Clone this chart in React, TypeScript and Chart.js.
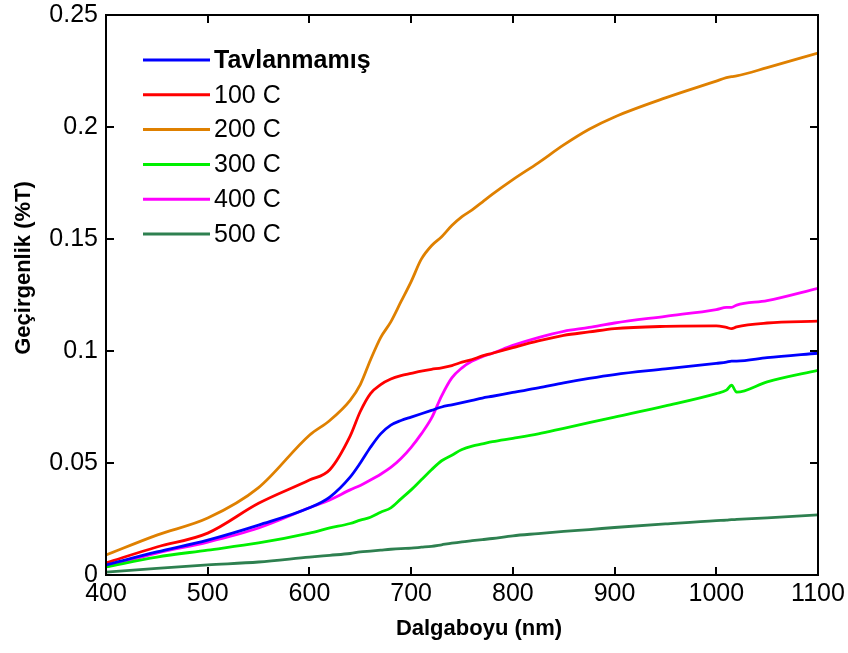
import React, { useEffect, useRef } from "react";
import { Chart, registerables } from "chart.js";

Chart.register(...registerables);

const WAVELENGTHS = [400, 450, 500, 550, 600, 620, 640, 650, 660, 670, 680, 690, 700, 710, 720, 730, 740, 750, 760, 770, 780, 800, 825, 850, 875, 900, 950, 1000, 1010, 1015, 1020, 1050, 1100];

const TAVLANMAMIS = [0.0045, 0.0103, 0.0156, 0.0223, 0.030, 0.0348, 0.0437, 0.050, 0.057, 0.063, 0.0669, 0.069, 0.0705, 0.072, 0.0735, 0.075, 0.076, 0.077, 0.078, 0.079, 0.0798, 0.0815, 0.0835, 0.0858, 0.0878, 0.0895, 0.092, 0.0945, 0.095, 0.0955, 0.0955, 0.097, 0.099];
const C100 = [0.0054, 0.0125, 0.0187, 0.032, 0.0424, 0.047, 0.062, 0.073, 0.081, 0.085, 0.0875, 0.089, 0.090, 0.091, 0.0918, 0.0925, 0.0935, 0.095, 0.0962, 0.0978, 0.099, 0.1015, 0.1045, 0.107, 0.1085, 0.110, 0.111, 0.1112, 0.1105, 0.110, 0.1108, 0.1125, 0.1133];
const C200 = [0.0089, 0.0178, 0.0254, 0.039, 0.0624, 0.069, 0.078, 0.085, 0.096, 0.106, 0.113, 0.122, 0.131, 0.141, 0.147, 0.151, 0.156, 0.160, 0.163, 0.1665, 0.170, 0.1765, 0.184, 0.192, 0.199, 0.2045, 0.213, 0.2205, 0.222, 0.2225, 0.2228, 0.2265, 0.233];
const C300 = [0.0036, 0.008, 0.0111, 0.0143, 0.0187, 0.021, 0.023, 0.0245, 0.0258, 0.028, 0.030, 0.034, 0.038, 0.0425, 0.047, 0.051, 0.0535, 0.056, 0.0575, 0.0585, 0.0595, 0.061, 0.063, 0.0655, 0.068, 0.0705, 0.0755, 0.081, 0.0825, 0.0847, 0.0816, 0.0862, 0.0914];
const C400 = [0.0036, 0.0098, 0.0147, 0.021, 0.030, 0.0335, 0.038, 0.040, 0.0424, 0.045, 0.048, 0.052, 0.057, 0.063, 0.070, 0.080, 0.088, 0.0925, 0.0955, 0.0975, 0.099, 0.1025, 0.106, 0.1088, 0.1105, 0.1125, 0.1155, 0.1185, 0.1195, 0.1195, 0.1205, 0.1225, 0.128];
const C500 = [0.0013, 0.003, 0.0045, 0.0058, 0.008, 0.0088, 0.0096, 0.0103, 0.0107, 0.0111, 0.0115, 0.0118, 0.012, 0.0124, 0.0128, 0.0135, 0.0142, 0.0148, 0.0153, 0.0158, 0.0163, 0.0175, 0.0185, 0.0195, 0.0203, 0.0212, 0.0228, 0.0243, 0.0245, 0.0247, 0.0248, 0.0255, 0.0268];

const SERIES_NAMES = ["Tavlanmamış", "100 C", "200 C", "300 C", "400 C", "500 C"];
const SERIES_VALUES = [TAVLANMAMIS, C100, C200, C300, C400, C500];
const SERIES_COLORS = ["#0000FF", "#FF0000", "#DF8000", "#00F000", "#FF00FF", "#2E8050"];

const X_TICKS = [400, 500, 600, 700, 800, 900, 1000, 1100];
const X_TICK_LABELS = ["400", "500", "600", "700", "800", "900", "1000", "1100"];
const Y_TICKS = [0, 0.05, 0.1, 0.15, 0.2, 0.25];
const Y_TICK_LABELS = ["0", "0.05", "0.1", "0.15", "0.2", "0.25"];

const X_TITLE = "Dalgaboyu (nm)";
const Y_TITLE = "Geçirgenlik (%T)";

const FONT = "'Liberation Sans', Arial, sans-serif";

const framePlugin = {
  id: "framePlugin",
  afterDraw(chart: any) {
    const { ctx, chartArea } = chart;
    const xs = chart.scales.x;
    const ys = chart.scales.y;
    const { left, right, top, bottom } = chartArea;
    ctx.save();
    ctx.strokeStyle = "#000";
    ctx.lineWidth = 2;
    ctx.strokeRect(left, top, right - left, bottom - top);
    const tl = 8;
    ctx.beginPath();
    X_TICKS.forEach((v) => {
      const px = Math.round(xs.getPixelForValue(v));
      ctx.moveTo(px, bottom);
      ctx.lineTo(px, bottom - tl);
      ctx.moveTo(px, top);
      ctx.lineTo(px, top + tl);
    });
    Y_TICKS.forEach((v) => {
      const py = Math.round(ys.getPixelForValue(v));
      ctx.moveTo(left, py);
      ctx.lineTo(left + tl, py);
      ctx.moveTo(right, py);
      ctx.lineTo(right - tl, py);
    });
    ctx.stroke();

    // axis titles
    ctx.fillStyle = "#000";
    ctx.font = `bold 22px ${FONT}`;
    ctx.textAlign = "center";
    ctx.textBaseline = "middle";
    ctx.fillText(X_TITLE, 479, 629);
    ctx.save();
    ctx.translate(24, 268);
    ctx.rotate(-Math.PI / 2);
    ctx.fillText(Y_TITLE, 0, 0);
    ctx.restore();

    // legend
    chart.data.datasets.forEach((ds: any, i: number) => {
      const y = 60 + i * 34.8;
      ctx.strokeStyle = ds.borderColor;
      ctx.lineWidth = 3;
      ctx.beginPath();
      ctx.moveTo(143, y);
      ctx.lineTo(210, y);
      ctx.stroke();
      ctx.fillStyle = "#000";
      ctx.font = `${i === 0 ? "bold " : ""}25px ${FONT}`;
      ctx.textAlign = "left";
      ctx.textBaseline = "middle";
      ctx.fillText(ds.label, 214, y + 1);
    });
    ctx.restore();
  },
};

export default function App() {
  const canvasRef = useRef<HTMLCanvasElement | null>(null);

  useEffect(() => {
    document.body.style.margin = "0";
    const canvas = canvasRef.current;
    if (!canvas) return;
    const chart = new Chart(canvas, {
      type: "line",
      data: {
        datasets: SERIES_NAMES.map((name, si) => ({
          label: name,
          data: WAVELENGTHS.map((w, i) => ({ x: w, y: SERIES_VALUES[si][i] })),
          borderColor: SERIES_COLORS[si],
          backgroundColor: SERIES_COLORS[si],
          borderWidth: 2.8,
          pointRadius: 0,
          cubicInterpolationMode: "monotone",
          fill: false,
        })),
      },
      options: {
        animation: false,
        responsive: true,
        maintainAspectRatio: false,
        layout: { padding: { left: 0, right: 30, top: 15, bottom: 0 } },
        plugins: {
          legend: { display: false },
          tooltip: { enabled: false },
        },
        scales: {
          x: {
            type: "linear",
            min: 400,
            max: 1100,
            afterBuildTicks: (scale: any) => {
              scale.ticks = X_TICKS.map((v) => ({ value: v }));
            },
            ticks: {
              color: "#000",
              font: { family: FONT, size: 25 },
              padding: 4,
              maxRotation: 0,
              autoSkip: false,
              callback: (v: any) => {
                const idx = X_TICKS.findIndex((t) => Math.abs(t - Number(v)) < 1e-9);
                return idx >= 0 ? X_TICK_LABELS[idx] : "";
              },
            },
            grid: { display: false, drawTicks: false },
            border: { display: false },
            afterFit: (scale: any) => {
              scale.height = 78;
              scale.paddingLeft = 0;
              scale.paddingRight = 0;
            },
          },
          y: {
            type: "linear",
            min: 0,
            max: 0.25,
            afterBuildTicks: (scale: any) => {
              scale.ticks = Y_TICKS.map((v) => ({ value: v }));
            },
            ticks: {
              color: "#000",
              font: { family: FONT, size: 25 },
              padding: 8,
              autoSkip: false,
              callback: (v: any) => {
                const idx = Y_TICKS.findIndex((t) => Math.abs(t - Number(v)) < 1e-9);
                return idx >= 0 ? Y_TICK_LABELS[idx] : "";
              },
            },
            grid: { display: false, drawTicks: false },
            border: { display: false },
            afterFit: (scale: any) => {
              scale.width = 106;
              scale.paddingTop = 0;
              scale.paddingBottom = 0;
            },
          },
        },
      },
      plugins: [framePlugin],
    });
    return () => chart.destroy();
  }, []);

  return (
    <div style={{ width: 848, height: 653, position: "relative", background: "#fff" }}>
      <canvas ref={canvasRef} />
    </div>
  );
}
